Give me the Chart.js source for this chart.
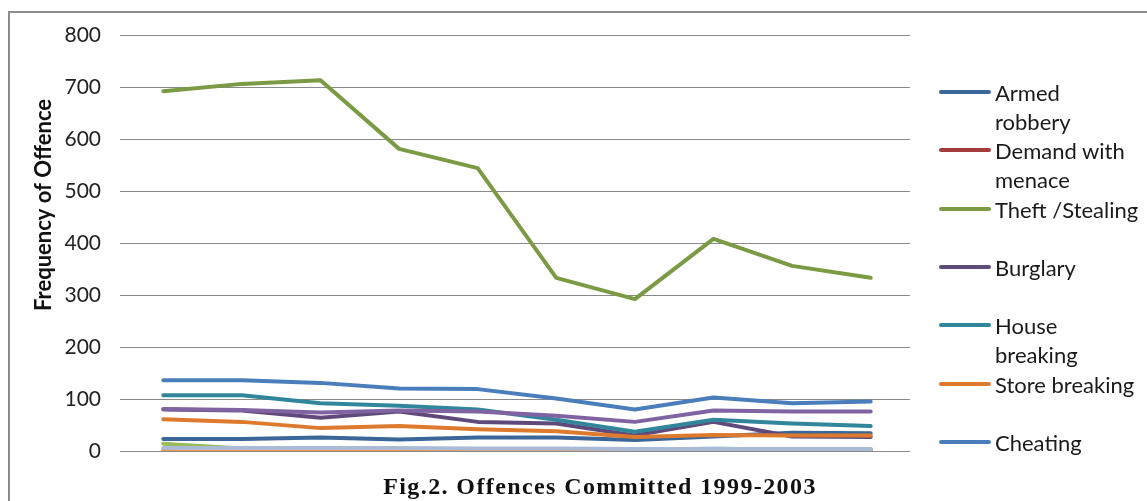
<!DOCTYPE html>
<html>
<head>
<meta charset="utf-8">
<script src="https://cdn.jsdelivr.net/npm/chart.js@4.4.1/dist/chart.umd.min.js"></script>
<style>
html,body{margin:0;padding:0;background:#fff;width:1147px;height:501px;overflow:hidden;}
#frame{position:absolute;left:8px;top:11px;width:1300px;height:700px;border:2px solid #8c8c8c;box-sizing:border-box;}
#c{position:absolute;left:0;top:0;}
#legend{position:absolute;left:0;top:0;font-family:Lato, "Open Sans", sans-serif;font-size:22px;color:#1a1a1a;}
.item{position:absolute;left:939px;}
.sw{position:absolute;left:0;top:12px;width:52px;height:4px;border-radius:2px;}
.tx{position:absolute;left:56px;top:0;white-space:pre;line-height:29px;}
#caption{position:absolute;left:0;width:1200px;text-align:center;top:473px;font:bold 24px "Liberation Serif","Times New Roman",serif;letter-spacing:1.4px;color:#111;}
</style>
</head>
<body>
<div id="frame"></div>
<canvas id="c" width="1147" height="501"></canvas>
<div id="legend"></div>
<div id="caption">Fig.2. Offences Committed 1999-2003</div>
<script>
// ---- data ----
const categories = ['1', '2', '3', '4', '5', '6', '7', '8', '9', '10'];
const yTicks = [0, 100, 200, 300, 400, 500, 600, 700, 800];
const yTitle = 'Frequency of Offence';

const armedRobbery   = [23, 23, 26, 22, 26, 26, 21, 28, 35, 34];
const demandMenace   = [2, 2, 2, 2, 2, 2, 2, 3, 2, 2];
const theftStealing  = [692, 706, 713, 581, 544, 333, 292, 408, 356, 333];
const burglary       = [80, 78, 64, 76, 56, 53, 30, 56, 28, 27];
const houseBreaking  = [107, 107, 92, 87, 80, 60, 37, 60, 53, 48];
const storeBreaking  = [61, 56, 44, 48, 42, 38, 27, 31, 30, 30];
const cheating       = [136, 136, 131, 120, 119, 101, 80, 103, 92, 95];
// series whose legend entries fall outside the picture
const otherA = [81, 79, 74, 78, 76, 68, 56, 78, 76, 76];
const otherB = [14, 5, 4, 4, 4, 4, 3, 4, 4, 4];
const otherC = [1, 1, 1, 1, 1, 1, 2, 5, 2, 1];
const otherD = [0, 0, 0, 1, 1, 1, 1, 1, 1, 1];
const otherE = [6, 6, 6, 6, 5, 5, 4, 4, 4, 4];

const seriesNames = ['Armed\nrobbery', 'Demand with\nmenace', 'Theft /Stealing', 'Burglary',
  'House\nbreaking', 'Store breaking', 'Cheating', 'Other A', 'Other B', 'Other C', 'Other D', 'Other E'];
const seriesData = [armedRobbery, demandMenace, theftStealing, burglary, houseBreaking,
  storeBreaking, cheating, otherA, otherB, otherC, otherD, otherE];
const seriesColors = ['#3A6699', '#A33D3B', '#7A9A43', '#604A7B', '#31869B', '#DD7A2E',
  '#4A7EBB', '#8064A2', '#9BBB59', '#93CDDD', '#F79646', '#A9BBD7'];
const inLegend = [true, true, true, true, true, true, true, false, false, false, false, false];

// ---- chart ----
const datasets = seriesData.map((d, i) => ({
  label: seriesNames[i],
  data: d,
  borderColor: seriesColors[i],
  backgroundColor: seriesColors[i],
  borderWidth: 4,
  pointRadius: 0,
  tension: 0,
  borderJoinStyle: 'round',
  borderCapStyle: 'round',
  order: 100 - i
}));

const yTitlePlugin = {
  id: 'yTitle',
  afterDraw(chart) {
    const ctx = chart.ctx;
    ctx.save();
    ctx.translate(44, 205);
    ctx.rotate(-Math.PI / 2);
    ctx.font = 'bold 22px Lato, "Open Sans", sans-serif';
    ctx.fillStyle = '#111';
    ctx.textAlign = 'center';
    ctx.textBaseline = 'middle';
    ctx.fillText(yTitle, 0, 0);
    ctx.restore();
  }
};

const chart = new Chart(document.getElementById('c'), {
  type: 'line',
  data: { labels: categories, datasets },
  plugins: [yTitlePlugin],
  options: {
    responsive: false,
    animation: false,
    layout: { padding: { left: 0, top: 35, right: 237, bottom: 50 } },
    plugins: { legend: { display: false }, tooltip: { enabled: false }, title: { display: false } },
    scales: {
      x: { type: 'category', offset: true, display: false },
      y: {
        min: 0, max: 800,
        afterBuildTicks(scale) { scale.ticks = yTicks.map(v => ({ value: v })); },
        afterFit(scale) { scale.width = 124; scale.paddingTop = 0; scale.paddingBottom = 0; },
        border: { display: false },
        grid: { color: '#8a8a8a', lineWidth: 1, tickLength: 4, drawTicks: true },
        ticks: { padding: 19, color: '#222', font: { family: 'Lato, "Open Sans", sans-serif', size: 21 } }
      }
    }
  }
});

// ---- legend (HTML) ----
const legendEl = document.getElementById('legend');
let slot = 0;
seriesNames.forEach((name, i) => {
  if (!inLegend[i]) return;
  const item = document.createElement('div');
  item.className = 'item';
  item.style.top = (78 + slot * 58.33) + 'px';
  const sw = document.createElement('div');
  sw.className = 'sw';
  sw.style.background = seriesColors[i];
  const tx = document.createElement('div');
  tx.className = 'tx';
  tx.textContent = name;
  item.appendChild(sw); item.appendChild(tx);
  legendEl.appendChild(item);
  slot++;
});
</script>
</body>
</html>
